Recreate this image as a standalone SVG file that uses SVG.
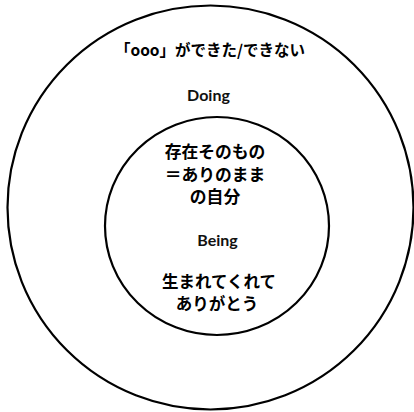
<svg xmlns="http://www.w3.org/2000/svg" width="414" height="412" viewBox="0 0 414 412">
<style>
.ring{fill:none;stroke:#000;stroke-width:2.2}
.jp{font-family:"Noto Sans CJK JP","Noto Sans CJK SC",sans-serif;font-weight:bold;fill:#000;text-anchor:middle}
.en{font-family:Lato,"Open Sans",sans-serif;font-weight:bold;fill:#111;text-anchor:middle}
</style>
<rect width="414" height="412" fill="#fff"/>
<g id="doing">
<ellipse class="ring" cx="210.5" cy="207.5" rx="203" ry="202"/>
<text class="jp" x="210" y="56" font-size="15.5">「ooo」ができた/できない</text>
<text class="en" x="208.5" y="100.5" font-size="16">Doing</text>
</g>
<g id="being">
<ellipse class="ring" cx="217" cy="226" rx="112" ry="109"/>
<text class="jp" x="215" y="158" font-size="16.8">存在そのもの</text>
<text class="jp" x="215" y="180.5" font-size="16.8">＝ありのまま</text>
<text class="jp" x="215" y="203" font-size="16.8">の自分</text>
<text class="en" x="217.5" y="245.5" font-size="16">Being</text>
<text class="jp" x="219" y="288" font-size="16.5">生まれてくれて</text>
<text class="jp" x="217" y="310" font-size="16.5">ありがとう</text>
</g>
<g id="connectors"/>
</svg>
